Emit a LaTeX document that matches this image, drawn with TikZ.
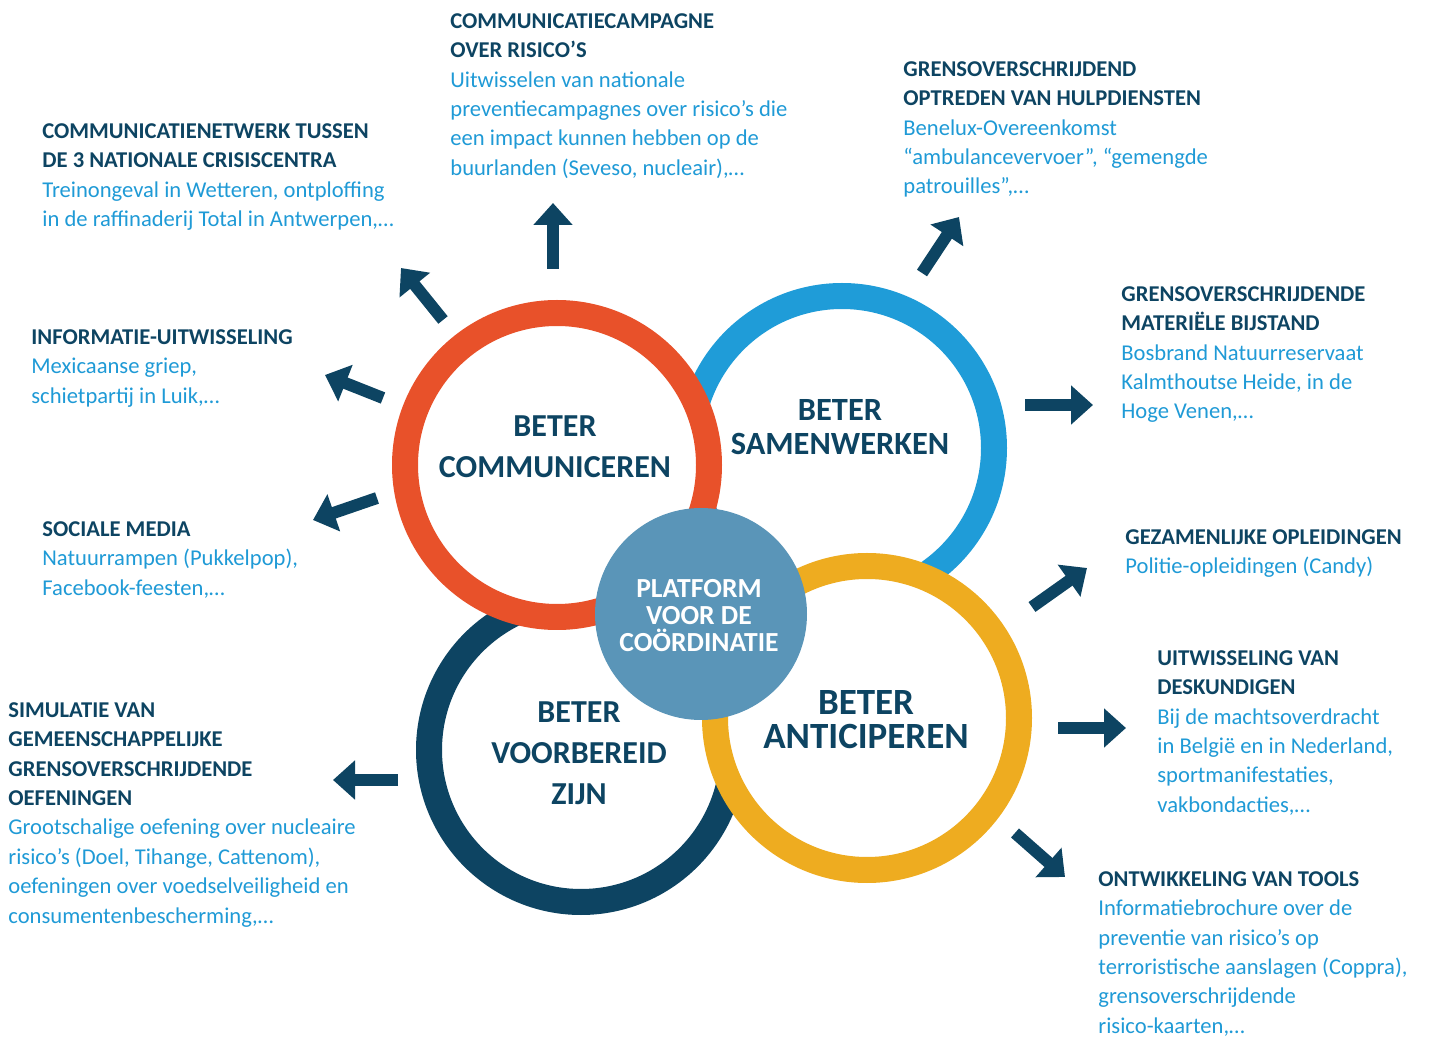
\documentclass[tikz,border=0pt]{standalone}
\usepackage{fontspec}
\setmainfont{Carlito}
\usetikzlibrary{arrows.meta}
\definecolor{navy}{HTML}{0D4462}
\definecolor{lichtblauw}{HTML}{1F9AD6}
\definecolor{rood}{HTML}{E8512A}
\definecolor{blauw}{HTML}{1F9CD8}
\definecolor{geel}{HTML}{EEAC20}
\definecolor{staal}{HTML}{5A95B8}
\newcommand\kop[1]{{\bfseries\color{navy}#1}}

\begin{document}
\begin{tikzpicture}[x=0.5pt,y=-0.5pt,
  ring/.style={circle,draw=#1,fill=white,line width=13pt,minimum size=152pt,inner sep=0pt},
  pijl/.style={navy,line width=6pt,-{Triangle[width=19pt,length=11pt]}},
  tekst/.style={anchor=north west,align=left,inner sep=0pt,text=lichtblauw,
    font=\fontsize{11.3}{14.7}\selectfont},
  ringtekst/.style={align=center,text=navy,inner sep=0pt,font=\bfseries\fontsize{16}{20.5}\selectfont}]
\useasboundingbox (0,0) rectangle (1437,1037);
%\draw[help lines,step=100] (0,0) grid (1437,1037);
% de vier ringen en het platform
\node[ring=blauw] (sam) at (842,448) {};
\node[ring=navy] (voor) at (581,750) {};
\node[ring=rood] (com) at (557,465) {};
\node[ring=geel] (ant) at (867,718) {};
\node[circle,fill=staal,minimum size=106pt,inner sep=0pt] (plat) at (701,614) {};
\node[ringtekst] (comt) at (555,447) {BETER\\COMMUNICEREN};
\node[ringtekst,font=\bfseries\fontsize{16.2}{17}\selectfont] (samt) at (840,427) {BETER\\SAMENWERKEN};
\node[ringtekst] (voort) at (579,753) {BETER\\VOORBEREID\\ZIJN};
\node[ringtekst,font=\bfseries\fontsize{18.5}{17}\selectfont] (antt) at (866,720) {BETER\\ANTICIPEREN};
\node[ringtekst,text=white,font=\bfseries\fontsize{13.8}{13.5}\selectfont] (platt) at (699,616) {PLATFORM\\VOOR DE\\COÖRDINATIE};
% pijlen naar buiten
\foreach \n/\xa/\ya/\xb/\yb in {1/553/269/553/203, 2/443/320/401/268, 3/383/398/325/375,
  4/377/498/313/520, 5/398/780/333/780, 6/922/273/959/217, 7/1025/405/1093/405,
  8/1032/607/1087/568, 9/1058/728/1126/728, 10/1015/833/1065/877}{
  \coordinate (s\n) at (\xa,\ya);
  \coordinate (e\n) at (\xb,\yb);
  \draw[pijl] (s\n)--(e\n);
}
% teksten
\node[tekst] (tcampagne) at (450,13) {\kop{COMMUNICATIECAMPAGNE}\\\kop{OVER RISICO’S}\\
  Uitwisselen van nationale\\preventiecampagnes over risico’s die\\
  een impact kunnen hebben op de\\buurlanden (Seveso, nucleair),…};
\node[tekst] (tnetwerk) at (42,123) {\kop{COMMUNICATIENETWERK TUSSEN}\\\kop{DE 3 NATIONALE CRISISCENTRA}\\
  Treinongeval in Wetteren, ontploffing\\in de raffinaderij Total in Antwerpen,…};
\node[tekst] (tinfo) at (31,329) {\kop{INFORMATIE-UITWISSELING}\\Mexicaanse griep,\\schietpartij in Luik,…};
\node[tekst] (tsociaal) at (42,521) {\kop{SOCIALE MEDIA}\\Natuurrampen (Pukkelpop),\\Facebook-feesten,…};
\node[tekst] (tsimulatie) at (8,702) {\kop{SIMULATIE VAN}\\\kop{GEMEENSCHAPPELIJKE}\\
  \kop{GRENSOVERSCHRIJDENDE}\\\kop{OEFENINGEN}\\Grootschalige oefening over nucleaire\\
  risico’s (Doel, Tihange, Cattenom),\\oefeningen over voedselveiligheid en\\consumentenbescherming,…};
\node[tekst] (toptreden) at (903,61) {\kop{GRENSOVERSCHRIJDEND}\\\kop{OPTREDEN VAN HULPDIENSTEN}\\
  Benelux-Overeenkomst\\“ambulancevervoer”, “gemengde\\patrouilles”,…};
\node[tekst] (tbijstand) at (1121,286) {\kop{GRENSOVERSCHRIJDENDE}\\\kop{MATERIËLE BIJSTAND}\\
  Bosbrand Natuurreservaat\\Kalmthoutse Heide, in de\\Hoge Venen,…};
\node[tekst] (topleiding) at (1125,529) {\kop{GEZAMENLIJKE OPLEIDINGEN}\\Politie-opleidingen (Candy)};
\node[tekst] (tdeskundig) at (1157,650) {\kop{UITWISSELING VAN}\\\kop{DESKUNDIGEN}\\
  Bij de machtsoverdracht\\in België en in Nederland,\\sportmanifestaties,\\vakbondacties,…};
\node[tekst] (ttools) at (1098,871) {\kop{ONTWIKKELING VAN TOOLS}\\Informatiebrochure over de\\
  preventie van risico’s op\\terroristische aanslagen (Coppra),\\grensoverschrijdende\\risico-kaarten,…};
\end{tikzpicture}
\end{document}
